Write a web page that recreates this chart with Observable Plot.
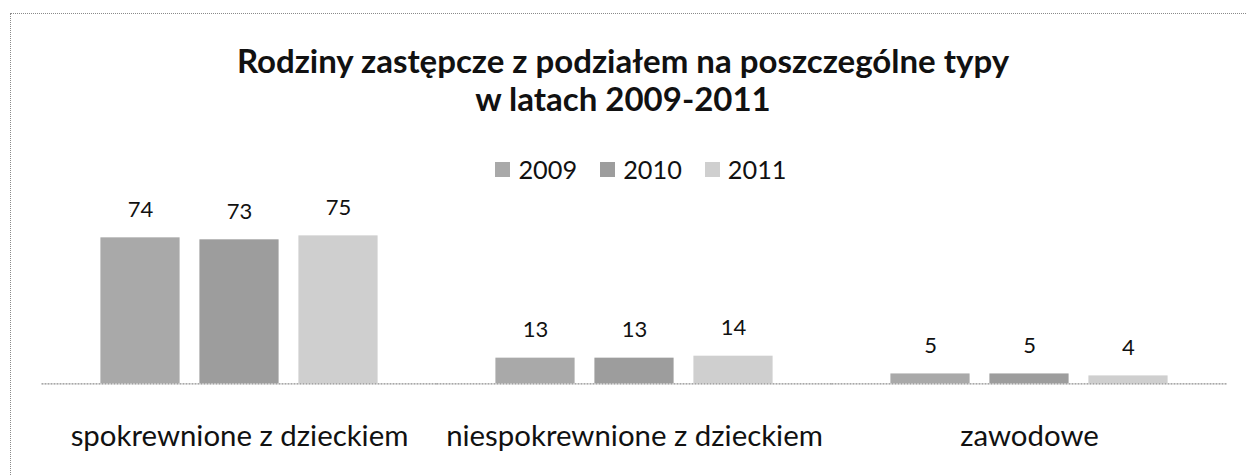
<!DOCTYPE html>
<html>
<head>
<meta charset="utf-8">
<script src="https://cdn.jsdelivr.net/npm/d3@7"></script>
<script src="https://cdn.jsdelivr.net/npm/@observablehq/plot@0.6"></script>
<style>
  html, body { margin: 0; padding: 0; background: #fff; }
  #wrap { position: relative; width: 1246px; height: 475px; overflow: hidden; font-family: Lato, "Open Sans", sans-serif; color: #111; }
  #frame { position: absolute; left: 10px; top: 13px; width: 1300px; height: 520px; border: 1px dotted #8a8a8a; box-sizing: border-box; }
  #title { position: absolute; left: 0; top: 41px; width: 1246px; text-align: center; font-weight: bold; font-size: 33px; line-height: 38px; }
  #legend { position: absolute; left: 18px; top: 154px; width: 1246px; display: flex; justify-content: center; align-items: center; font-size: 25.3px; }
  #legend .item { display: flex; align-items: center; margin: 0 11.5px; }
  #legend .sw { width: 15px; height: 15px; margin-right: 8px; }
  #chart { position: absolute; left: 0; top: 0; }
</style>
</head>
<body>
<div id="wrap">
  <div id="frame"></div>
  <div id="chart"></div>
  <div id="title">Rodziny zastępcze z podziałem na poszczególne typy<br>w latach 2009-2011</div>
  <div id="legend"></div>
</div>
<script>
const categories = ["spokrewnione z dzieckiem", "niespokrewnione z dzieckiem", "zawodowe"];
const years = ["2009", "2010", "2011"];
const values2009 = [74, 13, 5];
const values2010 = [73, 13, 5];
const values2011 = [75, 14, 4];
const yearColors = ["#a9a9a9", "#9d9d9d", "#cfcfcf"];

const series = [values2009, values2010, values2011];
const data = [];
categories.forEach((c, i) => {
  years.forEach((y, j) => {
    data.push({category: c, year: y, value: series[j][i]});
  });
});

const chart = Plot.plot({
  width: 1246,
  height: 475,
  marginTop: 225.5,
  marginBottom: 91.7,
  marginLeft: 41.5,
  marginRight: 19.5,
  style: {fontFamily: "Lato, 'Open Sans', sans-serif", color: "#111", background: "transparent"},
  fx: {domain: categories, paddingInner: 0, paddingOuter: 0, round: false, label: null, axis: null},
  x: {domain: years, paddingInner: 0.2, paddingOuter: 0.595, round: false, axis: null},
  y: {domain: [0, 80], axis: null},
  color: {domain: years, range: yearColors},
  marks: [
    Plot.barY(data, {fx: "category", x: "year", y: "value", fill: "year"}),
    Plot.ruleY([0], {stroke: "#8c8c8c", strokeWidth: 1.2, strokeDasharray: "2,1"}),
    Plot.text(data, {fx: "category", x: "year", y: "value", text: d => String(d.value), dy: -28, fontSize: 22, fill: "#111"}),
    Plot.axisFx({anchor: "bottom", tickSize: 0, tickPadding: 41, fontSize: 29.4, label: null, fill: "#111"})
  ]
});
document.getElementById("chart").appendChild(chart);

const legend = document.getElementById("legend");
years.forEach((y, j) => {
  const item = document.createElement("div");
  item.className = "item";
  const sw = document.createElement("div");
  sw.className = "sw";
  sw.style.background = yearColors[j];
  const t = document.createElement("span");
  t.textContent = y;
  item.appendChild(sw);
  item.appendChild(t);
  legend.appendChild(item);
});
</script>
</body>
</html>
